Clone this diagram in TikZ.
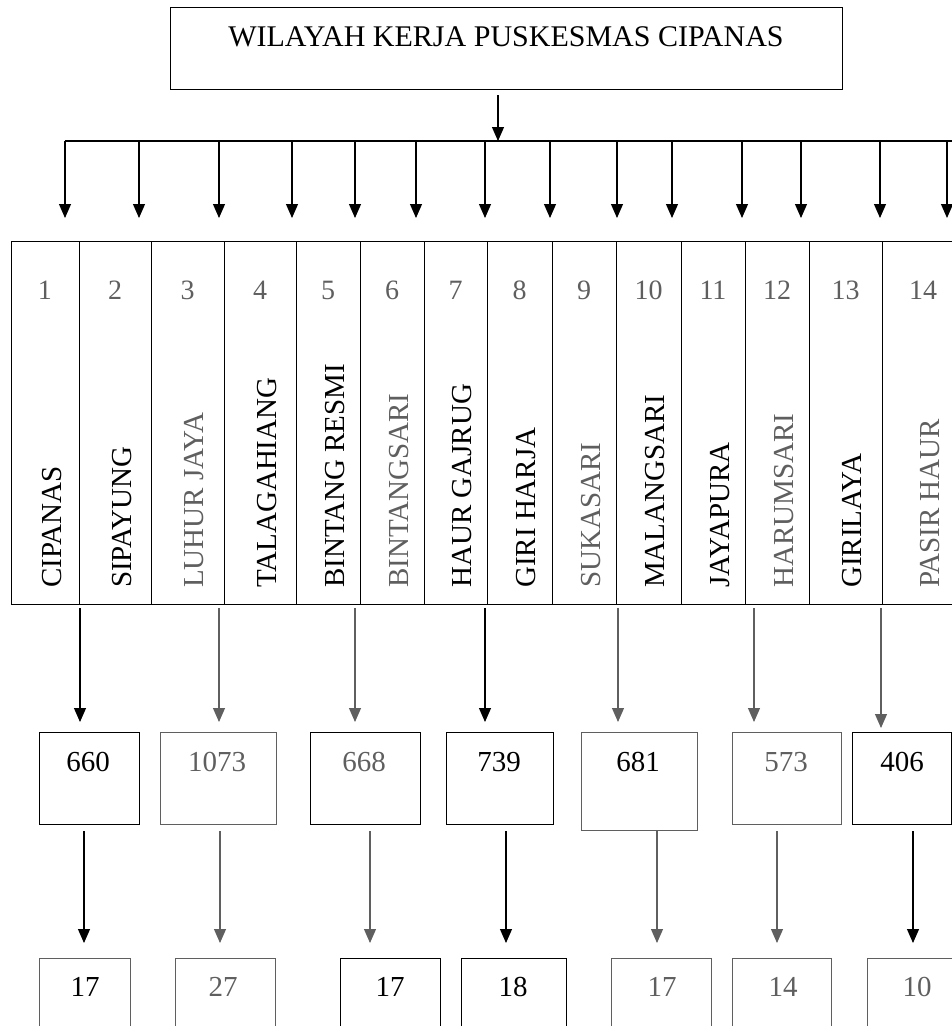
\documentclass[tikz,border=0pt]{standalone}
\usepackage{fontspec}
\setmainfont{Liberation Serif}
\usetikzlibrary{arrows.meta,calc}
\definecolor{gy}{RGB}{95,95,95}
\begin{document}
\begin{tikzpicture}[x=1pt,y=-1pt,
  lbl/.style={font=\fontsize{29}{34}\selectfont, inner sep=0pt},
  hnum/.style={font=\fontsize{28}{33}\selectfont, inner sep=0pt, text=gy},
  colbox/.style={draw, line width=1.2pt, anchor=north west, inner sep=0pt, minimum height=363pt},
  valbox/.style={draw, line width=1.1pt, anchor=north west, inner sep=0pt},
  arr/.style={line width=1.1pt, -{Triangle[width=12pt,length=14pt]}}]
\useasboundingbox (0,0) rectangle (952,1026);

% title box
\node[draw, line width=1.1pt, anchor=north west, inner sep=0pt, minimum width=672pt, minimum height=82pt] (top) at (170,7) {};
\node[lbl, font=\fontsize{30}{35}\selectfont] (title) at (506,37) {WILAYAH KERJA PUSKESMAS CIPANAS};

% bus
\coordinate (bus) at (498,141);
\coordinate (busL) at (65,141);
\coordinate (busR) at (952,141);
\draw[arr, shorten <=5pt] (top.south -| bus) -- (bus);
\draw[line width=1.3pt] (busL) -- (busR);

% table columns
\foreach \i/\xa/\xb/\nm/\c in {
  1/10.7/79/CIPANAS/black,
  2/79/151/SIPAYUNG/black,
  3/151/224/LUHUR JAYA/gy,
  4/224/296/TALAGAHIANG/black,
  5/296/360/BINTANG RESMI/black,
  6/360/424/BINTANGSARI/gy,
  7/424/487/HAUR GAJRUG/black,
  8/487/552/GIRI HARJA/black,
  9/552/616/SUKASARI/gy,
  10/616/681/MALANGSARI/black,
  11/681/745/JAYAPURA/black,
  12/745/809/HARUMSARI/gy,
  13/809/882/GIRILAYA/black,
  14/882/964/PASIR HAUR/gy} {
  \node[colbox, minimum width=\xb-\xa] (col\i) at (\xa,241) {};
  \node[hnum] (num\i) at ({(\xa+\xb)/2},290) {\i};
  \node[lbl, rotate=90, anchor=west, text=\c] (nm\i) at ({(\xa+\xb)/2+7},588) {\nm};
}

% arrows from bus to columns
\foreach \x [count=\k] in {65,139,219,292,355,416,485,550,617,672,742,801,880,947} {
  \coordinate (t\k) at (\x,141);
  \draw[arr, shorten >=23pt] (t\k) -- (t\k |- col1.north);
}

% middle value boxes
\foreach \k/\xa/\xb/\h/\v/\bc/\tc/\tx in {
  1/39/139/92/660/black/black/88,
  2/160/276/92/1073/gy/gy/217,
  3/310/420/92/668/black/gy/364,
  4/446/553/92/739/black/black/499,
  5/581/697/98/681/gy/black/638,
  6/732/841/92/573/gy/gy/786,
  7/852/951/92/406/black/black/902} {
  \node[valbox, draw=\bc, minimum width=\xb-\xa, minimum height=\h] (m\k) at (\xa,732) {};
  \node[lbl, text=\tc] (mv\k) at (\tx,762) {\v};
}

% arrows from table to middle boxes
\foreach \k/\x/\c/\s in {1/80/black/10,2/219/gy/10,3/355/gy/10,4/485/black/10,5/618/gy/10,6/754/gy/10,7/881/gy/4} {
  \coordinate (a\k) at (\x,608);
  \draw[arr, draw=\c, fill=\c, shorten >=\s pt] (a\k) -- (a\k |- m\k.north);
}

% bottom boxes
\foreach \k/\xa/\xb/\v/\bc/\tc/\tx in {
  1/39/130/17/gy/black/85,
  2/175/275/27/gy/gy/223,
  3/340/440/17/black/black/390,
  4/461/566/18/black/black/513,
  5/611/711/17/gy/gy/662,
  6/732/831/14/gy/gy/783,
  7/867/970/10/gy/gy/917} {
  \node[valbox, draw=\bc, minimum width=\xb-\xa, minimum height=82] (n\k) at (\xa,958) {};
  \node[lbl, text=\tc] (nv\k) at (\tx,987) {\v};
}

% arrows from middle boxes to bottom boxes
\foreach \k/\x/\c in {1/84/black,2/220/gy,3/370/gy,4/506/black,5/657/gy,6/777/gy,7/913/black} {
  \coordinate (d\k) at (\x,831);
  \draw[arr, draw=\c, fill=\c, shorten >=15pt] (d\k) -- (d\k |- n\k.north);
}
\end{tikzpicture}
\end{document}
